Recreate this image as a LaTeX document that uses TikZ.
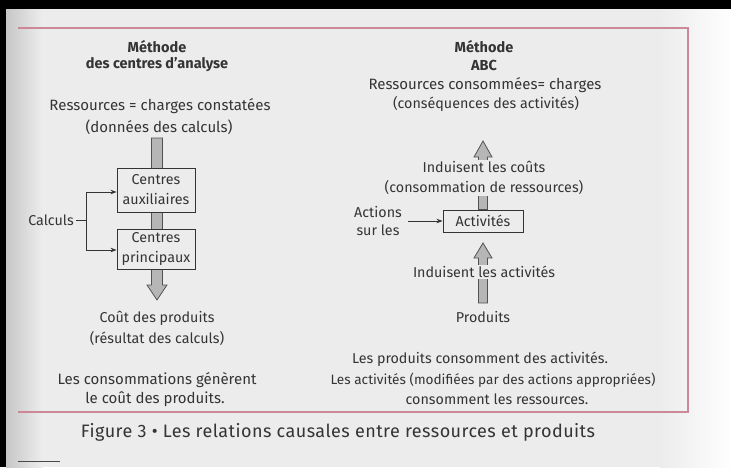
\documentclass[tikz,border=0pt]{standalone}
\usepackage{fontspec}
\setmainfont{Fira Sans}
\newfontfamily\capfont[LetterSpace=2.5]{Fira Sans}
\usetikzlibrary{arrows.meta,calc}
\definecolor{paper}{RGB}{236,236,236}
\definecolor{ink}{RGB}{52,52,52}
\definecolor{framecol}{RGB}{204,136,152}
\definecolor{shaftcol}{RGB}{182,182,182}
\pgfdeclarelayer{bg}
\pgfdeclarelayer{arr}
\pgfsetlayers{bg,arr,main}

% vertical block arrows: from, to, half shaft width, half head width, head length
\newcommand\blkdown[5]{%
  \path[blk] let \p1=(#1),\p2=(#2) in
    (\x1-#3pt,\y1) -- (\x1-#3pt,\y2+#5pt) -- (\x1-#4pt,\y2+#5pt) -- (\x1,\y2)
    -- (\x1+#4pt,\y2+#5pt) -- (\x1+#3pt,\y2+#5pt) -- (\x1+#3pt,\y1) -- cycle;}
\newcommand\blkup[5]{%
  \path[blk] let \p1=(#1),\p2=(#2) in
    (\x1-#3pt,\y1) -- (\x1-#3pt,\y2-#5pt) -- (\x1-#4pt,\y2-#5pt) -- (\x1,\y2)
    -- (\x1+#4pt,\y2-#5pt) -- (\x1+#3pt,\y2-#5pt) -- (\x1+#3pt,\y1) -- cycle;}

\begin{document}
\begin{tikzpicture}[x=1pt,y=-1pt,
  txt/.style={text=ink,font=\fontsize{14.3}{20}\selectfont,align=center,inner sep=0pt},
  wide/.style={txt,font=\fontsize{15}{20}\selectfont},
  title/.style={txt,font=\bfseries\fontsize{14.5}{18}\selectfont},
  cbox/.style={txt,draw=ink,line width=0.9pt,fill=paper,minimum width=78pt},
  blk/.style={draw=ink!85,line width=0.8pt,fill=shaftcol,line join=miter},
  link/.style={draw=ink,line width=0.8pt},
  linkarrow/.style={link,-{Stealth[length=6pt,width=4.5pt]}},
  cover/.style={txt,fill=paper,inner ysep=1pt}]

% page
\begin{pgfonlayer}{bg}
  \fill[paper] (0,0) rectangle (731,467);
  \shade[left color=black!22,right color=paper] (6,0) rectangle (42,467);
  \shade[left color=paper,right color=white!96!paper] (660,0) rectangle (731,467);
  \fill[black] (0,0) rectangle (731,9);
  \fill[black] (0,0) rectangle (6,467);
\end{pgfonlayer}

% frame around the figure
\draw[framecol,line width=1.2pt] (18,28) -- (688,28) -- (688,412) -- (18,412);
\draw[ink!90,line width=1pt] (18,461) -- (60,461);

% ---- Méthode des centres d'analyse ----
\node[title] (m1) at (157,47) {Méthode};
\node[title] (m2) at (157,65) {des centres d'analyse};
\node[wide] (r1) at (160,106) {Ressources = charges constatées};
\node[wide] (r2) at (159,127) {(données des calculs)};
\coordinate (lsrc) at (157,138);
\coordinate (ltip) at (157,300);
\node[cbox,minimum height=44pt] (aux) at (156,190) {Centres\\auxiliaires};
\node[cbox,minimum height=40pt] (princ) at (156,249) {Centres\\principaux};
\node[txt] (c1) at (157,318) {Coût des produits};
\node[txt] (c2) at (157,338) {(résultat des calculs)};
\node[wide] (g1) at (157,380) {Les consommations génèrent};
\node[wide] (g2) at (155,399) {le coût des produits.};

\node[txt,anchor=east] (calc) at (74,220) {Calculs};
\coordinate (j) at (86,220);
\draw[link] (calc.east) ++(2,0) -- (j);
\draw[linkarrow] (j) |- (aux.west |- 0,192);
\draw[linkarrow] (j) |- (princ.west |- 0,250);

\begin{pgfonlayer}{arr}
  \blkdown{lsrc}{ltip}{5.5}{10}{15}
\end{pgfonlayer}

% ---- Méthode ABC ----
\node[title] (a1) at (484,47) {Méthode};
\node[title] (a2) at (484,65) {ABC};
\node[wide] (rc1) at (485,85) {Ressources consommées= charges};
\node[txt] (rc2) at (486,104) {(conséquences des activités)};
\node[cbox,minimum width=80pt,minimum height=22pt] (act) at (483,221) {Activités};
\coordinate (t1) at (483,141);
\coordinate (t2) at (483,243);
\coordinate (psrc) at (483,303);
\node[cover] (ind1) at (484,178) {Induisent les coûts\\(consommation de ressources)};
\node[cover] (ind2) at (484,272) {Induisent les activités};
\node[txt] (prod) at (483,317) {Produits};
\node[txt,font=\fontsize{14.3}{18}\selectfont] (actions) at (378,221) {Actions\\sur les};
\draw[linkarrow,shorten <=6pt] (actions.east) -- (act.west);

\begin{pgfonlayer}{arr}
  \blkup{act.north}{t1}{4.5}{9}{16}
  \blkup{psrc}{t2}{4.5}{9}{15}
\end{pgfonlayer}

\node[txt] (s1) at (480,359) {Les produits consomment des activités.};
\node[txt,font=\fontsize{13.6}{20}\selectfont] (s2) at (493,380) {Les activités (modifiées par des actions appropriées)};
\node[txt] (s3) at (497,399) {consomment les ressources.};

% caption
\node[txt,font=\capfont\fontsize{18}{22}\selectfont] (cap) at (338,432)
  {Figure 3 • Les relations causales entre ressources et produits};
\end{tikzpicture}
\end{document}
